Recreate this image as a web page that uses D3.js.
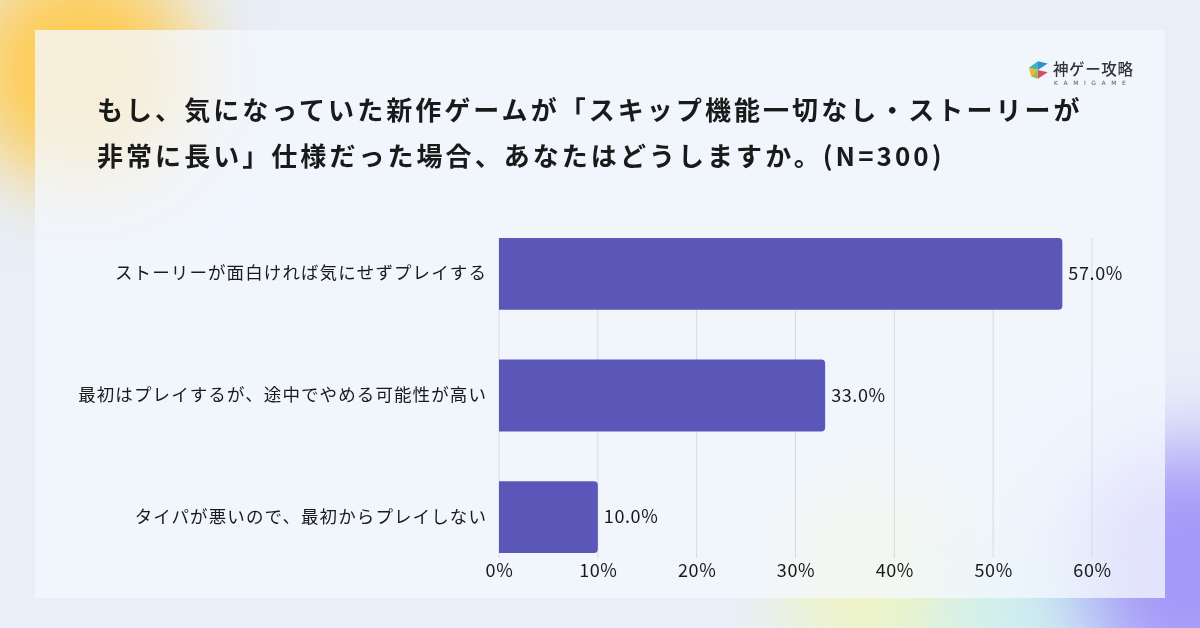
<!DOCTYPE html>
<html><head><meta charset="utf-8">
<script src="https://cdn.jsdelivr.net/npm/d3@7"></script>
<style>html,body{margin:0;padding:0;background:#e9eff9;}svg{display:block;}</style>
</head><body><div id="chart"></div>
<script>
const titleLines = ["もし、気になっていた新作ゲームが「スキップ機能一切なし・ストーリーが", "非常に長い」仕様だった場合、あなたはどうしますか。(N=300)"];
const categories = ["ストーリーが面白ければ気にせずプレイする", "最初はプレイするが、途中でやめる可能性が高い", "タイパが悪いので、最初からプレイしない"];
const values = [57.0, 33.0, 10.0];
const ticks = [0, 10, 20, 30, 40, 50, 60];

const W = 1200, H = 628;
const svg = d3.select("#chart").append("svg").attr("width", W).attr("height", H);
const defs = svg.append("defs");
const blur = defs.append("filter").attr("id","blur").attr("x","-50%").attr("y","-50%").attr("width","200%").attr("height","200%");
blur.append("feGaussianBlur").attr("stdDeviation", 40);

svg.append("rect").attr("width", W).attr("height", H).attr("fill", "#e8eff9");
const blobs = [
  {cx: 80, cy: 70, r: 115, c: "#ffc94a", o: 0.95},
  {cx: 1190, cy: 570, r: 125, c: "#a498f8", o: 1},
  {cx: 880, cy: 570, r: 100, c: "#eff4bf", o: 0.95},
  {cx: 1010, cy: 620, r: 85, c: "#c8efee", o: 0.8}
];
svg.append("g").attr("filter","url(#blur)").selectAll("circle").data(blobs).join("circle")
  .attr("cx", d=>d.cx).attr("cy", d=>d.cy).attr("r", d=>d.r).attr("fill", d=>d.c).attr("opacity", d=>d.o);

// card
svg.append("rect").attr("x", 35).attr("y", 30).attr("width", 1130).attr("height", 568)
  .attr("fill", "#f4f7fe").attr("opacity", 0.78);

const font = "'Noto Sans CJK JP', 'Noto Sans', sans-serif";
// title
svg.append("g").selectAll("text").data(titleLines).join("text")
  .attr("x", 97).attr("y", (d,i)=>120 + i*46)
  .attr("font-family", font).attr("font-weight", 700).attr("font-size", 26)
  .attr("letter-spacing", 3.05)
  .attr("fill", "#1a1a1a").text(d=>d);

// logo
const lg = svg.append("g").attr("transform","translate(1029,59) scale(1.1)");
lg.append("path").attr("d","M0,8 L8,2 L8,10 Z").attr("fill","#3fb5a8");
lg.append("path").attr("d","M8,2 L17,4 L8,10 Z").attr("fill","#2f8fd6");
lg.append("path").attr("d","M0,8 L8,10 L2,16 Z").attr("fill","#f3b431");
lg.append("path").attr("d","M8,10 L17,12 L8,18 Z").attr("fill","#d94a66");
lg.append("path").attr("d","M2,16 L8,10 L8,18 Z").attr("fill","#8cc14a");
svg.append("text").attr("x",1053).attr("y",75).attr("font-family",font).attr("font-weight",500)
  .attr("font-size",15.5).attr("letter-spacing",0.6).attr("fill","#333").text("神ゲー攻略");
svg.append("text").attr("x",1054).attr("y",85).attr("font-family","'DejaVu Sans', sans-serif")
  .attr("font-size",6).attr("letter-spacing",5.6).attr("fill","#555").text("KAMIGAME");

// scales
const x = d3.scaleLinear().domain([0, 60]).range([499, 1092]);
const y = d3.scaleBand().domain(categories).range([238, 553]).paddingInner(0.41).paddingOuter(0);

// grid
svg.append("g").selectAll("line").data(ticks).join("line")
  .attr("x1", d=>x(d)).attr("x2", d=>x(d)).attr("y1", 238).attr("y2", 558)
  .attr("stroke", "#d6d9e2").attr("stroke-width", 1);

// bars with rounded right corners
const r = 4;
svg.append("g").selectAll("path").data(values).join("path")
  .attr("d", (d,i)=>{
    const x0 = x(0), x1 = x(d), y0 = y(categories[i]), h = y.bandwidth();
    return `M${x0},${y0} H${x1-r} Q${x1},${y0} ${x1},${y0+r} V${y0+h-r} Q${x1},${y0+h} ${x1-r},${y0+h} H${x0} Z`;
  })
  .attr("fill", "#5a57b9");

// value labels
svg.append("g").selectAll("text").data(values).join("text")
  .attr("x", d=>x(d)+6).attr("y", (d,i)=>y(categories[i]) + y.bandwidth()/2)
  .attr("dy","0.35em").attr("font-family", font).attr("font-size", 18).attr("letter-spacing", 0.6)
  .attr("fill","#1a1a1a").text(d=>d.toFixed(1)+"%");

// category labels
const yAxis = d3.axisLeft(y).tickSize(0).tickPadding(12);
const ya = svg.append("g").attr("transform", `translate(${x(0)},0)`).call(yAxis);
ya.select(".domain").remove();
ya.selectAll("text").attr("font-family", font).attr("font-size", 17.5).attr("letter-spacing", 1.1)
  .attr("fill","#1a1a1a");

// x axis
const xAxis = d3.axisBottom(x).tickValues(ticks).tickSize(0).tickPadding(0).tickFormat(d=>d+"%");
const xa = svg.append("g").attr("transform", `translate(0,563)`).call(xAxis);
xa.select(".domain").remove();
xa.selectAll("text").attr("font-family", font).attr("font-size", 18).attr("letter-spacing", 0.6)
  .attr("fill","#1a1a1a").attr("dy","0.75em");
</script></body></html>
